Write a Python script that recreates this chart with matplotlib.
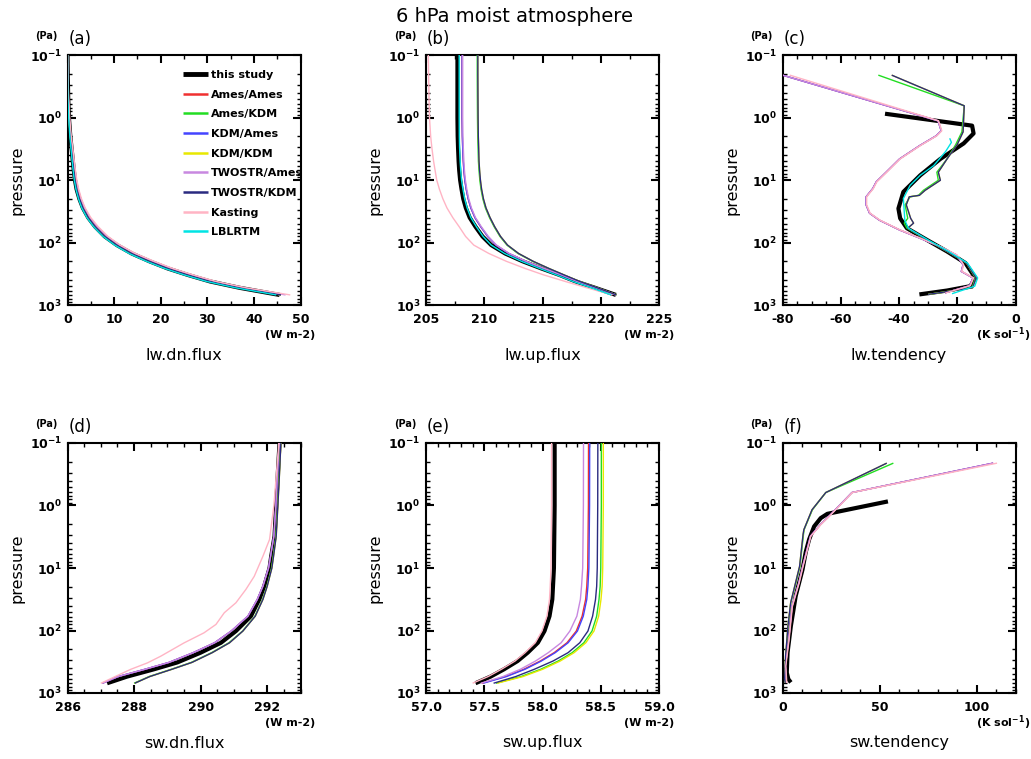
import matplotlib
matplotlib.use('Agg')
import matplotlib.pyplot as plt
from matplotlib.ticker import MultipleLocator, LogLocator, NullFormatter, FormatStrFormatter

# --- pressure levels (Pa) ---
p_lw = [0.1, 0.2, 0.5, 1, 2, 3, 5, 7, 10, 14, 20, 28, 40, 56, 80, 110, 150, 200, 260, 330, 420, 530, 690]

labels = ['this study', 'Ames/Ames', 'Ames/KDM', 'KDM/Ames', 'KDM/KDM',
          'TWOSTR/Ames', 'TWOSTR/KDM', 'Kasting', 'LBLRTM']
colors = ['black', '#f03030', '#22dd22', '#4444ff', '#e8e800',
          '#c888e0', '#2a2a80', '#ffb4c4', '#00e4e4']

# --- (a) lw.dn.flux (W m-2) ---
lwdn_this = [0.0, 0.05, 0.15, 0.3, 0.6, 0.85, 1.15, 1.35, 1.6, 1.95, 2.55, 3.3, 4.45, 5.95, 8.0, 10.6, 13.8, 17.6, 21.5, 25.8, 30.6, 36.9, 45.5]
lwdn_ames_ames = [0.0, 0.05, 0.17, 0.33, 0.65, 0.9, 1.2, 1.42, 1.68, 2.05, 2.65, 3.4, 4.6, 6.1, 8.2, 10.8, 14.0, 17.9, 21.8, 26.1, 30.9, 37.2, 45.8]
lwdn_ames_kdm = [0.0, 0.05, 0.15, 0.3, 0.6, 0.85, 1.15, 1.37, 1.62, 1.98, 2.57, 3.32, 4.47, 5.97, 8.02, 10.6, 13.8, 17.6, 21.5, 25.8, 30.6, 36.9, 45.8]
lwdn_kdm_ames = [0.0, 0.05, 0.17, 0.33, 0.65, 0.9, 1.2, 1.42, 1.68, 2.05, 2.65, 3.4, 4.6, 6.1, 8.2, 10.8, 14.0, 17.9, 21.8, 26.1, 30.9, 37.2, 45.8]
lwdn_kdm_kdm = [0.0, 0.05, 0.15, 0.3, 0.6, 0.85, 1.15, 1.37, 1.62, 1.98, 2.57, 3.32, 4.47, 5.97, 8.02, 10.6, 13.8, 17.6, 21.5, 25.8, 30.6, 36.9, 45.8]
lwdn_twostr_ames = [0.0, 0.06, 0.2, 0.4, 0.72, 1.0, 1.35, 1.6, 1.9, 2.3, 2.85, 3.65, 4.8, 6.4, 8.5, 11.1, 14.4, 18.3, 22.3, 26.6, 31.4, 37.7, 46.8]
lwdn_twostr_kdm = [0.0, 0.05, 0.15, 0.3, 0.6, 0.85, 1.15, 1.37, 1.62, 1.98, 2.57, 3.32, 4.47, 5.97, 8.02, 10.6, 13.8, 17.6, 21.5, 25.8, 30.6, 36.9, 45.8]
lwdn_kasting = [0.0, 0.08, 0.25, 0.45, 0.8, 1.1, 1.45, 1.7, 2.0, 2.4, 3.0, 3.8, 5.0, 6.6, 8.7, 11.3, 14.6, 18.6, 22.6, 27.0, 31.9, 38.3, 47.8]
lwdn_lblrtm = [0.0, 0.03, 0.1, 0.25, 0.5, 0.72, 1.0, 1.2, 1.45, 1.8, 2.35, 3.05, 4.15, 5.6, 7.6, 10.1, 13.2, 16.9, 20.8, 25.0, 29.8, 36.0, 44.8]

# --- (b) lw.up.flux (W m-2) ---
lwup_this = [207.7, 207.7, 207.7, 207.7, 207.72, 207.75, 207.8, 207.85, 207.93, 208.05, 208.2, 208.42, 208.75, 209.25, 209.85, 210.6, 211.8, 213.3, 214.9, 216.45, 217.85, 219.5, 221.3]
lwup_ames_ames = [208.1, 208.1, 208.1, 208.1, 208.12, 208.15, 208.2, 208.25, 208.33, 208.45, 208.62, 208.85, 209.2, 209.7, 210.3, 211.0, 212.1, 213.55, 215.1, 216.6, 218.0, 219.6, 221.3]
lwup_ames_kdm = [209.4, 209.4, 209.41, 209.42, 209.44, 209.47, 209.5, 209.55, 209.62, 209.72, 209.88, 210.1, 210.45, 210.85, 211.35, 211.95, 212.9, 214.15, 215.5, 216.8, 218.15, 219.65, 221.35]
lwup_kdm_ames = [208.1, 208.1, 208.1, 208.1, 208.12, 208.15, 208.2, 208.25, 208.33, 208.45, 208.62, 208.85, 209.2, 209.7, 210.3, 211.0, 212.1, 213.55, 215.1, 216.6, 218.0, 219.6, 221.3]
lwup_kdm_kdm = [209.45, 209.45, 209.46, 209.47, 209.49, 209.52, 209.55, 209.6, 209.67, 209.77, 209.93, 210.15, 210.5, 210.9, 211.4, 212.0, 212.95, 214.2, 215.55, 216.85, 218.2, 219.7, 221.35]
lwup_twostr_ames = [208.15, 208.15, 208.15, 208.15, 208.17, 208.2, 208.25, 208.3, 208.38, 208.5, 208.67, 208.9, 209.25, 209.75, 210.35, 211.05, 212.15, 213.6, 215.15, 216.65, 218.0, 219.6, 221.3]
lwup_twostr_kdm = [209.45, 209.45, 209.46, 209.47, 209.49, 209.52, 209.55, 209.6, 209.67, 209.77, 209.93, 210.15, 210.5, 210.9, 211.4, 212.0, 212.95, 214.2, 215.55, 216.85, 218.2, 219.7, 221.35]
lwup_kasting = [205.2, 205.22, 205.26, 205.3, 205.4, 205.5, 205.65, 205.78, 205.92, 206.15, 206.45, 206.8, 207.3, 207.85, 208.4, 209.1, 210.4, 211.9, 213.5, 215.1, 216.95, 218.8, 221.0]
lwup_lblrtm = [207.85, 207.85, 207.85, 207.85, 207.86, 207.88, 207.93, 207.98, 208.05, 208.17, 208.32, 208.53, 208.85, 209.33, 209.9, 210.6, 211.75, 213.2, 214.75, 216.2, 217.6, 219.2, 220.9]

# --- (c) lw.tendency (K/sol), each group with its own layer pressures ---
p_lwtend_this = [0.87, 1.35, 1.8, 2.6, 4.6, 8.4, 15.5, 28.6, 41, 59, 91, 139, 213, 369, 500, 587, 677]
lwtend_this = [-44.8, -14.9, -14.4, -17.8, -25.8, -32.7, -38.5, -40.2, -39.6, -37.3, -30.4, -23.5, -17.2, -13.8, -15.5, -23.5, -33.0]
p_lwtend_kdm = [0.21, 0.65, 1.7, 2.7, 4.6, 7.5, 10.1, 14.6, 17.6, 18.6, 25, 41, 49, 59, 91, 139, 213, 369, 530, 677]
lwtend_ames_kdm = [-47.1, -17.6, -18.4, -20.5, -23.5, -27.0, -26.5, -31.6, -33.3, -36.2, -37.9, -37.0, -38.2, -37.3, -30.4, -23.5, -16.8, -13.8, -14.9, -30.0]
lwtend_twostr_kdm = [-42.5, -17.6, -18.0, -20.0, -23.5, -26.5, -25.8, -31.0, -33.0, -36.5, -37.5, -36.0, -35.0, -37.0, -30.4, -23.5, -16.8, -13.6, -14.7, -30.0]
lwtend_kdm_kdm = [-42.5, -17.6, -18.0, -20.0, -23.5, -26.5, -25.8, -31.0, -33.0, -36.5, -37.5, -36.0, -35.0, -37.0, -30.4, -23.5, -16.8, -13.6, -14.7, -30.0]
p_lwtend_ames = [0.21, 1.13, 1.63, 1.96, 2.82, 4.6, 7.5, 10.7, 13.7, 18.6, 25, 34, 44, 63, 85, 116, 158, 227, 290, 369, 490, 640]
lwtend_kasting = [-77.5, -26.4, -25.3, -27.0, -32.7, -39.6, -44.2, -47.6, -48.8, -51.1, -51.1, -49.9, -46.5, -39.6, -32.7, -25.8, -20.1, -17.8, -18.4, -14.4, -15.5, -24.0]
lwtend_twostr_ames = [-80.0, -26.6, -25.5, -27.2, -32.9, -39.8, -44.4, -47.8, -49.0, -51.3, -51.3, -50.1, -46.7, -39.8, -32.9, -26.0, -20.3, -18.0, -18.6, -14.6, -15.7, -24.2]
lwtend_ames_ames = [-80.0, -26.6, -25.5, -27.2, -32.9, -39.8, -44.4, -47.8, -49.0, -51.3, -51.3, -50.1, -46.7, -39.8, -32.9, -26.0, -20.3, -18.0, -18.6, -14.6, -15.7, -24.2]
lwtend_kdm_ames = [-80.0, -26.6, -25.5, -27.2, -32.9, -39.8, -44.4, -47.8, -49.0, -51.3, -51.3, -50.1, -46.7, -39.8, -32.9, -26.0, -20.3, -18.0, -18.6, -14.6, -15.7, -24.2]
p_lwtend_lblrtm = [2.15, 2.5, 3.5, 5.9, 8.4, 12.2, 19.8, 32, 44, 59, 91, 139, 213, 369, 500, 660]
lwtend_lblrtm = [-22.6, -22.0, -24.0, -28.1, -32.7, -36.2, -38.5, -38.2, -38.0, -36.8, -30.0, -23.0, -16.5, -13.0, -14.0, -21.8]

# --- (d) sw.dn.flux (W m-2) ---
p_swdn = [0.1, 0.3, 1, 3.1, 6.5, 10, 19.6, 31.9, 59, 102, 157, 226, 324, 417, 546, 698]
swdn_this = [292.37, 292.32, 292.27, 292.22, 292.12, 292.07, 291.91, 291.76, 291.51, 291.06, 290.61, 290.0, 289.3, 288.6, 287.79, 287.19]
swdn_ames_ames = [292.36, 292.31, 292.26, 292.2, 292.1, 292.04, 291.87, 291.7, 291.42, 290.92, 290.42, 289.78, 289.05, 288.33, 287.52, 287.05]
swdn_ames_kdm = [292.4, 292.36, 292.31, 292.26, 292.18, 292.13, 291.99, 291.86, 291.63, 291.26, 290.85, 290.33, 289.72, 289.12, 288.45, 288.0]
swdn_kdm_ames = [292.36, 292.31, 292.26, 292.2, 292.1, 292.04, 291.87, 291.7, 291.42, 290.92, 290.42, 289.78, 289.05, 288.33, 287.52, 287.05]
swdn_kdm_kdm = [292.41, 292.37, 292.32, 292.27, 292.19, 292.14, 292.0, 291.87, 291.64, 291.27, 290.87, 290.35, 289.74, 289.14, 288.47, 288.02]
swdn_twostr_ames = [292.36, 292.31, 292.26, 292.2, 292.1, 292.04, 291.87, 291.7, 291.42, 290.92, 290.42, 289.78, 289.05, 288.33, 287.52, 287.05]
swdn_twostr_kdm = [292.41, 292.37, 292.32, 292.27, 292.19, 292.14, 292.0, 291.87, 291.64, 291.27, 290.87, 290.35, 289.74, 289.14, 288.47, 288.02]
p_swdn_kasting = [0.1, 1, 3.5, 6.5, 13.6, 22, 36, 52, 80, 109, 158, 258, 330, 418, 540, 700]
swdn_kasting = [292.35, 292.2, 292.07, 291.87, 291.61, 291.36, 291.06, 290.71, 290.46, 290.1, 289.5, 288.8, 288.4, 287.9, 287.45, 287.0]

# --- (e) sw.up.flux (W m-2) ---
p_swup = [0.1, 1, 10, 19.6, 31.9, 59, 102, 157, 226, 308, 417, 546, 698]
swup_this = [58.104, 58.104, 58.098, 58.09, 58.084, 58.06, 58.017, 57.96, 57.873, 57.786, 57.67, 57.555, 57.425]
swup_ames_ames = [58.395, 58.394, 58.388, 58.38, 58.37, 58.34, 58.29, 58.21, 58.10, 57.98, 57.84, 57.68, 57.48]
swup_ames_kdm = [58.505, 58.505, 58.5, 58.495, 58.485, 58.465, 58.425, 58.355, 58.255, 58.135, 57.985, 57.815, 57.60]
swup_kdm_ames = [58.405, 58.404, 58.398, 58.39, 58.38, 58.35, 58.30, 58.22, 58.11, 57.99, 57.85, 57.69, 57.49]
swup_kdm_kdm = [58.522, 58.522, 58.517, 58.512, 58.502, 58.482, 58.442, 58.372, 58.272, 58.152, 58.002, 57.832, 57.61]
swup_twostr_ames = [58.352, 58.351, 58.345, 58.335, 58.325, 58.295, 58.235, 58.16, 58.05, 57.94, 57.81, 57.66, 57.47]
swup_twostr_kdm = [58.475, 58.474, 58.47, 58.465, 58.455, 58.43, 58.39, 58.32, 58.22, 58.09, 57.93, 57.77, 57.58]
swup_kasting = [58.078, 58.078, 58.073, 58.066, 58.06, 58.038, 57.995, 57.938, 57.851, 57.764, 57.648, 57.533, 57.40]

# --- (f) sw.tendency (K/sol) ---
p_swtend_this = [0.86, 1.36, 1.59, 2.16, 3.5, 5.5, 10.6, 28, 85, 226, 471, 600, 677]
swtend_this = [54.3, 23.1, 19.7, 16.3, 13.7, 12.0, 10.3, 6.8, 4.3, 2.6, 2.2, 3.0, 4.3]
p_swtend_kdm = [0.21, 0.62, 1.17, 2.44, 2.9, 9.4, 36, 85, 256, 600, 690]
swtend_ames_kdm = [57.1, 22.3, 15.4, 11.1, 10.8, 9.0, 4.3, 2.9, 1.7, 1.2, 1.5]
swtend_twostr_kdm = [53.7, 22.3, 15.2, 11.0, 10.6, 8.8, 4.2, 2.8, 1.6, 1.1, 1.4]
swtend_kdm_kdm = [53.7, 22.3, 15.2, 11.0, 10.6, 8.8, 4.2, 2.8, 1.6, 1.1, 1.4]
p_swtend_ames = [0.21, 0.62, 1.5, 2.03, 3.1, 9.4, 17.3, 41, 139, 370, 690]
swtend_kasting = [110.5, 36.0, 24.0, 19.7, 14.6, 10.6, 8.6, 5.1, 3.4, 1.7, 2.2]
swtend_twostr_ames = [108.5, 35.8, 23.8, 19.5, 14.4, 10.4, 8.4, 4.9, 3.2, 1.5, 2.0]
swtend_ames_ames = [108.5, 35.8, 23.8, 19.5, 14.4, 10.4, 8.4, 4.9, 3.2, 1.5, 2.0]
swtend_kdm_ames = [108.5, 35.8, 23.8, 19.5, 14.4, 10.4, 8.4, 4.9, 3.2, 1.5, 2.0]

# --- panels: series are (label index, x values, pressures) ---
panels = [
    dict(tag='(a)', xlabel='lw.dn.flux', units='(W m-2)', xlim=(0, 50), major=10, minor=5, fmt='%d',
         series=[(0, lwdn_this, p_lw), (1, lwdn_ames_ames, p_lw), (2, lwdn_ames_kdm, p_lw),
                 (3, lwdn_kdm_ames, p_lw), (4, lwdn_kdm_kdm, p_lw), (5, lwdn_twostr_ames, p_lw),
                 (6, lwdn_twostr_kdm, p_lw), (7, lwdn_kasting, p_lw), (8, lwdn_lblrtm, p_lw)]),
    dict(tag='(b)', xlabel='lw.up.flux', units='(W m-2)', xlim=(205, 225), major=5, minor=2.5, fmt='%d',
         series=[(0, lwup_this, p_lw), (1, lwup_ames_ames, p_lw), (2, lwup_ames_kdm, p_lw),
                 (3, lwup_kdm_ames, p_lw), (4, lwup_kdm_kdm, p_lw), (5, lwup_twostr_ames, p_lw),
                 (6, lwup_twostr_kdm, p_lw), (7, lwup_kasting, p_lw), (8, lwup_lblrtm, p_lw)]),
    dict(tag='(c)', xlabel='lw.tendency', units=r'(K sol$^{\mathbf{-1}}$)', xlim=(-80, 0), major=20, minor=5, fmt='%d',
         series=[(0, lwtend_this, p_lwtend_this), (1, lwtend_ames_ames, p_lwtend_ames),
                 (2, lwtend_ames_kdm, p_lwtend_kdm), (3, lwtend_kdm_ames, p_lwtend_ames),
                 (4, lwtend_kdm_kdm, p_lwtend_kdm), (5, lwtend_twostr_ames, p_lwtend_ames),
                 (6, lwtend_twostr_kdm, p_lwtend_kdm), (7, lwtend_kasting, p_lwtend_ames),
                 (8, lwtend_lblrtm, p_lwtend_lblrtm)]),
    dict(tag='(d)', xlabel='sw.dn.flux', units='(W m-2)', xlim=(286, 293), major=2, minor=0.5, fmt='%d',
         series=[(0, swdn_this, p_swdn), (1, swdn_ames_ames, p_swdn), (2, swdn_ames_kdm, p_swdn),
                 (3, swdn_kdm_ames, p_swdn), (4, swdn_kdm_kdm, p_swdn), (5, swdn_twostr_ames, p_swdn),
                 (6, swdn_twostr_kdm, p_swdn), (7, swdn_kasting, p_swdn_kasting)]),
    dict(tag='(e)', xlabel='sw.up.flux', units='(W m-2)', xlim=(57, 59), major=0.5, minor=0.1, fmt='%.1f',
         series=[(0, swup_this, p_swup), (1, swup_ames_ames, p_swup), (2, swup_ames_kdm, p_swup),
                 (3, swup_kdm_ames, p_swup), (4, swup_kdm_kdm, p_swup), (5, swup_twostr_ames, p_swup),
                 (6, swup_twostr_kdm, p_swup), (7, swup_kasting, p_swup)]),
    dict(tag='(f)', xlabel='sw.tendency', units=r'(K sol$^{\mathbf{-1}}$)', xlim=(0, 120), major=50, minor=10, fmt='%d',
         series=[(0, swtend_this, p_swtend_this), (1, swtend_ames_ames, p_swtend_ames),
                 (2, swtend_ames_kdm, p_swtend_kdm), (3, swtend_kdm_ames, p_swtend_ames),
                 (4, swtend_kdm_kdm, p_swtend_kdm), (5, swtend_twostr_ames, p_swtend_ames),
                 (6, swtend_twostr_kdm, p_swtend_kdm), (7, swtend_kasting, p_swtend_ames)]),
]

W, H = 1031, 759
fig = plt.figure(figsize=(W / 100, H / 100), dpi=100)

lefts = [67.5, 426, 782.5]      # pixel left edges of the columns
tops = [55, 443]                # pixel top edges of the rows
ax_w, ax_h = 233, 250

fig.text(515 / W, 1 - 17 / H, '6 hPa moist atmosphere', ha='center', va='center', fontsize=14)

for k, pan in enumerate(panels):
    row, col = divmod(k, 3)
    x0, y0 = lefts[col], tops[row]
    ax = fig.add_axes([x0 / W, 1 - (y0 + ax_h) / H, ax_w / W, ax_h / H])

    handles = []
    for idx, xs, ps in pan['series']:
        lw = 3.0 if idx == 0 else 1.0
        h, = ax.plot(xs, ps, color=colors[idx], lw=lw, label=labels[idx],
                     solid_capstyle='butt', zorder=2 if idx == 0 else 3)
        handles.append(h)

    ax.set_yscale('log')
    ax.set_ylim(1000, 0.1)
    ax.set_xlim(*pan['xlim'])
    ax.set_yticks([0.1, 1, 10, 100, 1000])
    ax.set_yticklabels([r'$\mathbf{10^{-1}}$', r'$\mathbf{10^{0}}$', r'$\mathbf{10^{1}}$',
                        r'$\mathbf{10^{2}}$', r'$\mathbf{10^{3}}$'])
    ax.yaxis.set_minor_locator(LogLocator(base=10, subs=range(2, 10)))
    ax.yaxis.set_minor_formatter(NullFormatter())
    ax.xaxis.set_major_locator(MultipleLocator(pan['major']))
    ax.xaxis.set_minor_locator(MultipleLocator(pan['minor']))
    ax.xaxis.set_major_formatter(FormatStrFormatter(pan['fmt']))

    ax.tick_params(which='both', direction='in', top=True, right=True)
    ax.tick_params(which='major', length=6, width=1.5, labelsize=9)
    ax.tick_params(which='minor', length=3, width=1.0)
    ax.tick_params(axis='x', which='major', pad=5.5)
    ax.tick_params(axis='y', which='major', pad=4)
    for lab in ax.get_xticklabels():
        lab.set_fontweight('bold')
    for sp in ax.spines.values():
        sp.set_linewidth(1.5)

    ax.set_ylabel('pressure', fontsize=11.5, labelpad=4)

    # text around the panel
    fig.text((x0 - 21) / W, 1 - (y0 - 19) / H, '(Pa)', ha='center', va='center',
             fontsize=7, fontweight='bold')
    fig.text((x0 + 1) / W, 1 - (y0 - 16) / H, pan['tag'], ha='left', va='center', fontsize=12)
    fig.text((x0 + ax_w + 15) / W, 1 - (y0 + ax_h + 30) / H, pan['units'], ha='right',
             va='center', fontsize=8, fontweight='bold')
    fig.text((x0 + ax_w / 2) / W, 1 - (y0 + ax_h + 50) / H, pan['xlabel'], ha='center',
             va='center', fontsize=11.5)

    if k == 0:
        leg = ax.legend(handles=handles, loc='upper left', bbox_to_anchor=(0.495, 0.94),
                        frameon=False, handlelength=2.25, handletextpad=0.25, labelspacing=0.87,
                        borderaxespad=0, borderpad=0,
                        prop={'size': 8, 'weight': 'bold'})
        for i, ln in enumerate(leg.get_lines()):
            ln.set_linewidth(3.5 if i == 0 else 1.8)

fig.savefig('out.png', dpi=100)
